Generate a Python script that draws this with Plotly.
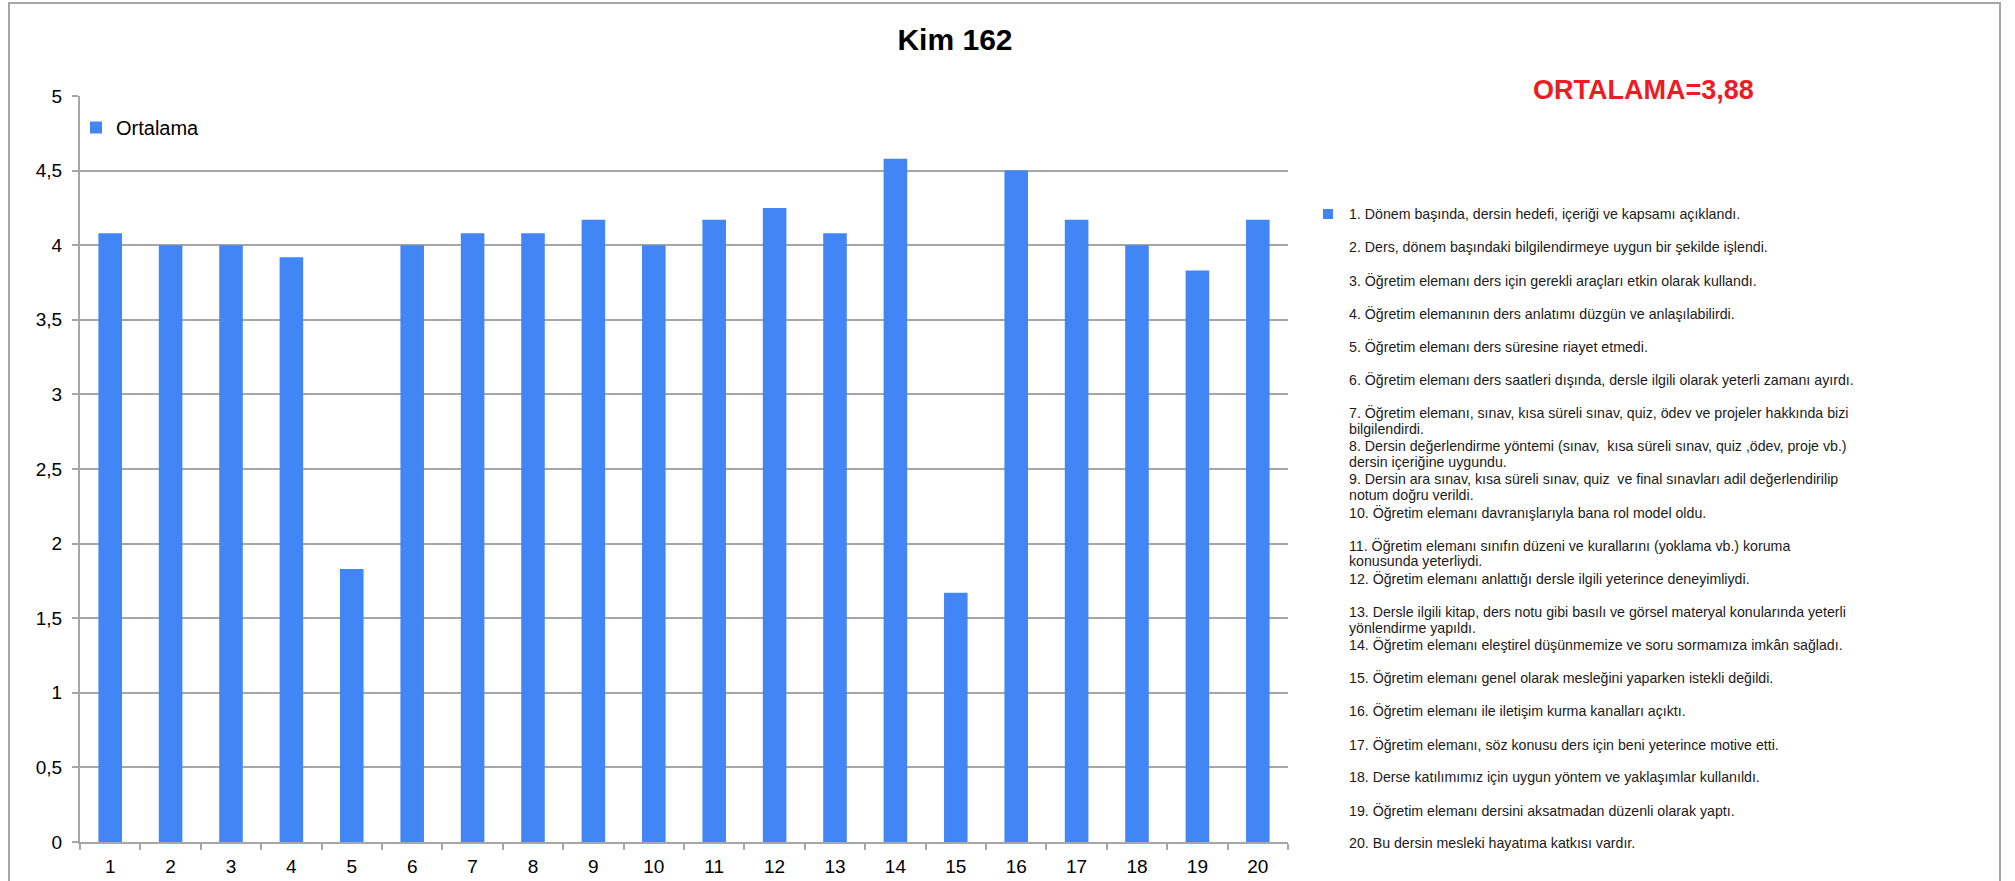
import plotly.graph_objects as go

# ---------------- data ----------------
categories = [str(i) for i in range(1, 21)]
ortalama = [4.08, 4.00, 4.00, 3.92, 1.83, 4.00, 4.08, 4.08, 4.17, 4.00,
            4.17, 4.25, 4.08, 4.58, 1.67, 4.50, 4.17, 4.00, 3.83, 4.17]
series_name = "Ortalama"
chart_title = "Kim 162"
mean_label = "ORTALAMA=3,88"
y_ticks = [0, 0.5, 1, 1.5, 2, 2.5, 3, 3.5, 4, 4.5, 5]
y_tick_labels = ["0", "0,5", "1", "1,5", "2", "2,5", "3", "3,5", "4", "4,5", "5"]
statements = [
    "1. Dönem başında, dersin hedefi, içeriği ve kapsamı açıklandı.",
    "2. Ders, dönem başındaki bilgilendirmeye uygun bir şekilde işlendi.",
    "3. Öğretim elemanı ders için gerekli araçları etkin olarak kullandı.",
    "4. Öğretim elemanının ders anlatımı düzgün ve anlaşılabilirdi.",
    "5. Öğretim elemanı ders süresine riayet etmedi.",
    "6. Öğretim elemanı ders saatleri dışında, dersle ilgili olarak yeterli zamanı ayırdı.",
    "7. Öğretim elemanı, sınav, kısa süreli sınav, quiz, ödev ve projeler hakkında bizi<br>bilgilendirdi.",
    "8. Dersin değerlendirme yöntemi (sınav,  kısa süreli sınav, quiz ,ödev, proje vb.)<br>dersin içeriğine uygundu.",
    "9. Dersin ara sınav, kısa süreli sınav, quiz  ve final sınavları adil değerlendirilip<br>notum doğru verildi.",
    "10. Öğretim elemanı davranışlarıyla bana rol model oldu.",
    "11. Öğretim elemanı sınıfın düzeni ve kurallarını (yoklama vb.) koruma<br>konusunda yeterliydi.",
    "12. Öğretim elemanı anlattığı dersle ilgili yeterince deneyimliydi.",
    "13. Dersle ilgili kitap, ders notu gibi basılı ve görsel materyal konularında yeterli<br>yönlendirme yapıldı.",
    "14. Öğretim elemanı eleştirel düşünmemize ve soru sormamıza imkân sağladı.",
    "15. Öğretim elemanı genel olarak mesleğini yaparken istekli değildi.",
    "16. Öğretim elemanı ile iletişim kurma kanalları açıktı.",
    "17. Öğretim elemanı, söz konusu ders için beni yeterince motive etti.",
    "18. Derse katılımımız için uygun yöntem ve yaklaşımlar kullanıldı.",
    "19. Öğretim elemanı dersini aksatmadan düzenli olarak yaptı.",
    "20. Bu dersin mesleki hayatıma katkısı vardır.",
]

# ---------------- layout geometry (pixels) ----------------
W, H = 2015, 881
L, R, T, B = 80, 1288, 96, 842
FONT = "Liberation Sans, Arial, sans-serif"
BLUE = "#4285F4"
GRID = "#A6A6A6"


def px_x(px):
    return (px - L) / (R - L)


def px_y(py):
    return (B - py) / (B - T)


fig = go.Figure()
fig.add_trace(go.Bar(
    x=categories, y=ortalama, name=series_name,
    marker=dict(color=BLUE, line=dict(width=0)),
    showlegend=True,
))

annotations = []
shapes = []

# outer frame
shapes.append(dict(type="rect", xref="paper", yref="paper",
                   x0=px_x(9), x1=px_x(2000), y0=px_y(900), y1=px_y(3),
                   line=dict(color=GRID, width=2), fillcolor="rgba(0,0,0,0)",
                   layer="below"))

# mean label
annotations.append(dict(text="<b>" + mean_label + "</b>", xref="paper", yref="paper",
                        x=px_x(1643), y=px_y(90), xanchor="center", yanchor="middle",
                        showarrow=False, font=dict(family=FONT, size=27, color="#ED1C24")))

# statement list on right
text_x = 1347
first_y = 214
step = 33.13
line_gap = 16
for i, s in enumerate(statements):
    lines = s.split("<br>")
    for j, ln in enumerate(lines):
        annotations.append(dict(text=ln, xref="paper", yref="paper",
                                x=px_x(text_x), y=px_y(first_y + i * step + j * line_gap),
                                xanchor="left", yanchor="middle", showarrow=False,
                                font=dict(family=FONT, size=14.2, color="#1a1a1a")))
shapes.append(dict(type="rect", xref="paper", yref="paper",
                   x0=px_x(1323), x1=px_x(1333), y0=px_y(first_y + 5), y1=px_y(first_y - 5),
                   line=dict(width=0), fillcolor=BLUE))

fig.update_layout(
    width=W, height=H,
    margin=dict(l=L, r=W - R, t=T, b=H - B, autoexpand=False),
    paper_bgcolor="white", plot_bgcolor="white",
    separators=",.",
    title=dict(text="<b>" + chart_title + "</b>", x=955 / W, xref="container", xanchor="center",
               y=1 - 39 / H, yref="container", yanchor="middle",
               font=dict(family=FONT, size=30, color="black")),
    bargap=0.61,
    showlegend=True,
    legend=dict(x=px_x(76), y=px_y(108), xanchor="left", yanchor="top",
                bgcolor="rgba(0,0,0,0)", font=dict(family=FONT, size=20, color="black"),
                itemwidth=30),
    xaxis=dict(type="category", showgrid=False, showline=True, linecolor=GRID, linewidth=2,
               ticks="outside", tickson="boundaries", ticklen=6, tickcolor=GRID, tickwidth=1.5,
               tickfont=dict(family=FONT, size=19, color="black"),
               ticklabelstandoff=6, automargin=False),
    yaxis=dict(range=[0, 5], tickvals=y_ticks, ticktext=y_tick_labels,
               showgrid=True, gridcolor=GRID, gridwidth=1.6, zeroline=False,
               showline=True, linecolor=GRID, linewidth=2,
               ticks="outside", ticklen=6, tickcolor=GRID, tickwidth=1.5,
               tickfont=dict(family=FONT, size=19, color="black"),
               ticklabelstandoff=6, automargin=False),
    annotations=annotations,
    shapes=shapes,
    font=dict(family=FONT),
)

fig.write_html("out.html", config={"displayModeBar": False},
               post_script="document.body.style.margin='0';document.body.style.overflow='hidden';")
